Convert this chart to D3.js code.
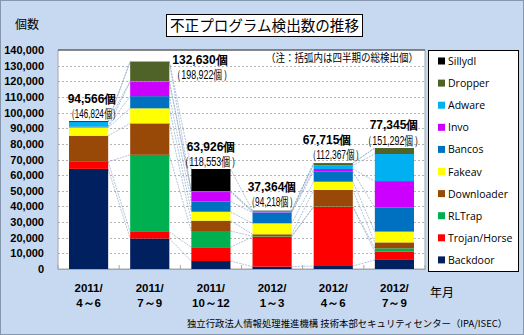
<!DOCTYPE html>
<html><head><meta charset="utf-8">
<script src="https://cdn.jsdelivr.net/npm/d3@7"></script>
<style>
html,body{margin:0;padding:0;background:#c6d9f1;}
svg{display:block;}
</style></head>
<body>
<script>
const categories = [["2011/","4～6"],["2011/","7～9"],["2011/","10～12"],["2012/","1～3"],["2012/","4～6"],["2012/","7～9"]];
const seriesNames = ["Backdoor","Trojan/Horse","RLTrap","Downloader","Fakeav","Bancos","Invo","Adware","Dropper","Sillydl"];
const seriesColors = ["#002060","#ff0000","#00b050","#984807","#ffff00","#0070c0","#cc00ff","#00b0f0","#4f6228","#000000"];
const Backdoor    = [64000, 19500,  5100,  1500,  1900,  5800];
const TrojanHorse = [ 4500,  4200,  8800, 19100, 37900,  5300];
const RLTrap      = [    0, 49300, 10400,   300,   200,  2100];
const Downloader  = [16700, 20100,  6600,  1300, 10500,  3800];
const Fakeav      = [ 5300,  9600,  5700,  7000,  5300,  6900];
const Bancos      = [  600,  7800,  6600,  6800,  6400, 15300];
const Invo        = [    0,  9200,  6000,   300,  1700, 17000];
const Adware      = [ 3000,   500,   600,   800,  2400, 17300];
const Dropper     = [    0, 12430,     0,   264,  1415,  3845];
const Sillydl     = [  466,     0, 14126,     0,     0,     0];
const totalLabels = ["94,566個","132,630個","63,926個","37,364個","67,715個","77,345個"];
const quarterLabels = ["（146,824個）","（198,922個）","（118,553個）","（94,218個）","（112,367個）","（151,292個）"];
const yTicks = [0,10000,20000,30000,40000,50000,60000,70000,80000,90000,100000,110000,120000,130000,140000];

const seriesValues = [Backdoor,TrojanHorse,RLTrap,Downloader,Fakeav,Bancos,Invo,Adware,Dropper,Sillydl];
const W = 524, H = 335;
const svg = d3.select("body").append("svg").attr("width",W).attr("height",H);
const bold = "'Liberation Sans', Arial, sans-serif";
const jp = "'Noto Sans CJK JP', sans-serif";

svg.append("rect").attr("x",0.5).attr("y",0.5).attr("width",W-1).attr("height",H-1)
  .attr("fill","#c6d9f1").attr("stroke","#8597ad");

const plot = {l:58, r:425, t:50, b:269};
const x = d3.scaleBand().domain(d3.range(categories.length)).range([plot.l, plot.r]).paddingInner(0.36).paddingOuter(0.18);
const y = d3.scaleLinear().domain([0,140000]).range([plot.b, plot.t]);

// plot area
svg.append("rect").attr("x",plot.l).attr("y",plot.t).attr("width",plot.r-plot.l).attr("height",plot.b-plot.t)
  .attr("fill","#ffffff").attr("stroke","#a6a6a6").attr("stroke-width",1);
svg.append("line").attr("x1",plot.l).attr("x2",plot.r).attr("y1",plot.t).attr("y2",plot.t).attr("stroke","#404040").attr("stroke-width",1.2);

// gridlines
svg.append("g").selectAll("line").data(yTicks.filter(d=>d>0 && d<140000)).join("line")
  .attr("x1",plot.l).attr("x2",plot.r).attr("y1",d=>Math.round(y(d))+0.5).attr("y2",d=>Math.round(y(d))+0.5)
  .attr("stroke","#a0a0a0").attr("stroke-width",0.8).attr("stroke-dasharray","2,2");

// y axis
const yAxis = d3.axisLeft(y).tickValues(yTicks).tickFormat(d3.format(",")).tickSize(0).tickPadding(14);
const gy = svg.append("g").attr("transform",`translate(${plot.l},0)`).call(yAxis);
gy.select(".domain").remove();
gy.selectAll("text").attr("font-family",bold).attr("font-weight","bold").attr("font-size",11).attr("fill","#000");

// x axis
const xAxis = d3.axisBottom(x).tickSize(0).tickFormat("");
const gx = svg.append("g").attr("transform",`translate(0,${plot.b})`).call(xAxis);
gx.select(".domain").attr("stroke","#a6a6a6");
svg.append("g").selectAll("line").data(d3.range(categories.length+1)).join("line")
  .attr("x1",i=>plot.l + i*(plot.r-plot.l)/categories.length).attr("x2",i=>plot.l + i*(plot.r-plot.l)/categories.length)
  .attr("y1",plot.b).attr("y2",plot.b-4).attr("stroke","#a6a6a6");

const xl = svg.append("g");
categories.forEach((c,i)=>{
  const cx = x(i)+x.bandwidth()/2;
  xl.append("text").attr("x",cx).attr("y",292).attr("text-anchor","middle").attr("font-family",bold).attr("font-weight","bold").attr("font-size",11.5).text(c[0]);
  xl.append("text").attr("x",cx).attr("y",307).attr("text-anchor","middle").attr("font-family",bold).attr("font-weight","bold").attr("font-size",11.5).text(c[1]);
});

// stacks
const table = categories.map((c,i)=>{ const o={i}; seriesNames.forEach((s,k)=>o[s]=seriesValues[k][i]); return o; });
const stacked = d3.stack().keys(seriesNames)(table);

// connector lines
const conn = svg.append("g");
stacked.forEach((layer,k)=>{
  for(let i=0;i<layer.length-1;i++){
    conn.append("line")
      .attr("x1",x(i)+x.bandwidth()).attr("y1",y(layer[i][1]))
      .attr("x2",x(i+1)).attr("y2",y(layer[i+1][1]))
      .attr("stroke","#8fa9c9").attr("stroke-width",0.7).attr("stroke-dasharray","2,1");
  }
});

svg.append("g").selectAll("g").data(stacked).join("g").attr("fill",(d,k)=>seriesColors[k])
  .selectAll("rect").data(d=>d).join("rect")
  .attr("x",(d,i)=>x(i)).attr("width",x.bandwidth())
  .attr("y",d=>y(d[1])).attr("height",d=>Math.max(0,y(d[0])-y(d[1])));

// total labels
const labPos = [{x:92,y:103},{x:200,y:64},{x:211,y:151},{x:272,y:191},{x:327,y:144},{x:394,y:129}];
const lab = svg.append("g");
labPos.forEach((p,i)=>{
  lab.append("text").attr("x",p.x).attr("y",p.y).attr("text-anchor","middle").attr("font-family",bold).attr("font-weight","bold").attr("font-size",12).text(totalLabels[i]);
});
const qPos = [{x:93.5,y:117.5,w:54},{x:202,y:78.5,w:60},{x:210,y:165.5,w:60},{x:272,y:205.5,w:51},{x:335.5,y:158.5,w:56},{x:393,y:144.5,w:60}];
qPos.forEach((p,i)=>{
  lab.append("text").attr("x",p.x).attr("y",p.y).attr("text-anchor","middle").attr("font-family",bold).attr("font-size",12.5)
    .attr("textLength", p.w).attr("lengthAdjust","spacingAndGlyphs").attr("fill","#000").text(quarterLabels[i]);
});
lab.append("text").attr("x",418).attr("y",62).attr("text-anchor","end").attr("font-family",jp).attr("font-size",11)
  .attr("textLength",152).attr("lengthAdjust","spacingAndGlyphs").text("（注：括弧内は四半期の総検出個）");

// legend
const lg = svg.append("g");
lg.append("rect").attr("x",428.5).attr("y",50.5).attr("width",90).attr("height",221).attr("fill","#fff").attr("stroke","#000");
const legendOrder = seriesNames.slice().reverse();
legendOrder.forEach((s,j)=>{
  const k = seriesNames.indexOf(s);
  const cy = 61 + j*22.1;
  lg.append("rect").attr("x",438).attr("y",cy-3.5).attr("width",7).attr("height",7).attr("fill",seriesColors[k]);
  lg.append("text").attr("x",448).attr("y",cy+4).attr("font-family","'Open Sans', sans-serif").attr("font-size",10.5).text(s);
});

// titles
svg.append("rect").attr("x",166.5).attr("y",14.5).attr("width",196).attr("height",22).attr("fill","#fff").attr("stroke","#000");
svg.append("text").attr("x",264.5).attr("y",31).attr("text-anchor","middle").attr("font-family",jp).attr("font-size",15)
  .attr("textLength",189).attr("lengthAdjust","spacingAndGlyphs").text("不正プログラム検出数の推移");
svg.append("text").attr("x",27).attr("y",29).attr("text-anchor","middle").attr("font-family",jp).attr("font-size",12).text("個数");
svg.append("text").attr("x",430).attr("y",297).attr("font-family",jp).attr("font-size",12).text("年月");
svg.append("text").attr("x",507).attr("y",327).attr("text-anchor","end").attr("font-family",jp).attr("font-size",9.6)
  .attr("textLength",320).attr("lengthAdjust","spacingAndGlyphs").text("独立行政法人情報処理推進機構 技術本部セキュリティセンター（IPA/ISEC）");
</script>
</body></html>
